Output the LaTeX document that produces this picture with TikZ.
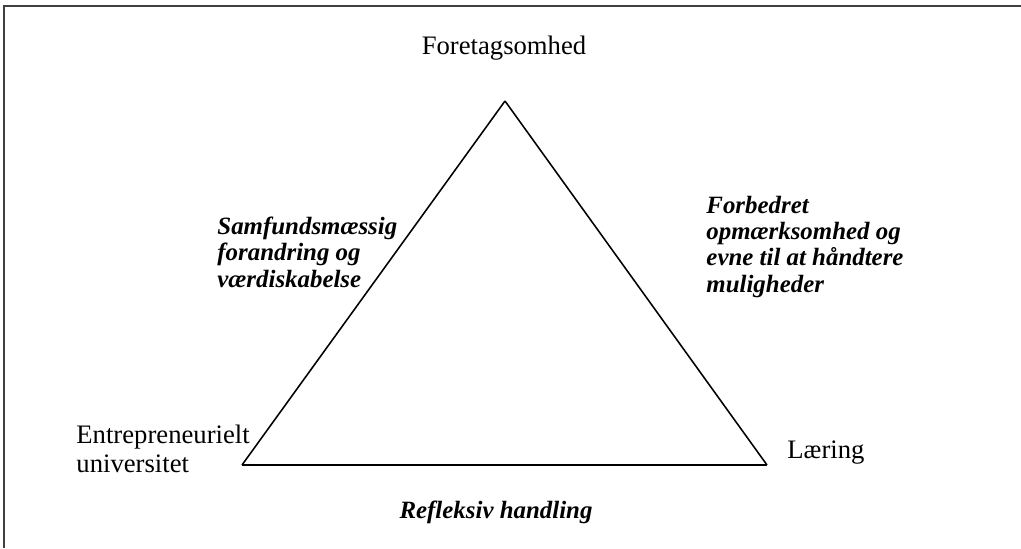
\documentclass[tikz,border=0pt]{standalone}
\usepackage{fontspec}
\setmainfont{Liberation Serif}
\usepackage{tikz}

\begin{document}
\begin{tikzpicture}[x=0.45pt,y=-0.45pt,
	corner/.style = {inner sep=0pt, font=\fontsize{12}{12.8}\selectfont, align=left},
	side/.style = {inner sep=0pt, font=\fontsize{11.2}{11.8}\selectfont\bfseries\itshape, align=left},
	edge/.style = {line width=0.7pt}]
	\useasboundingbox (0,0) rectangle (1021,548);
	\draw[line width=0.9pt, black!75] (4,548) -- (4,6) -- (1021,6);
	\coordinate (top) at (505,101);
	\coordinate (left) at (242,465);
	\coordinate (right) at (767,465);
	\node[corner] (fore) [anchor=base] at (504,54) {Foretagsomhed};
	\node[corner] (uni) [anchor=base west] at (76,472) {Entrepreneurielt\\universitet};
	\node[corner] (laer) [anchor=base west] at (787,458) {Læring};
	\node[side] (samf) [anchor=base west] at (217,287) {Samfundsmæssig\\forandring og\\værdiskabelse};
	\node[side] (forb) [anchor=base west] at (706,292) {Forbedret\\opmærksomhed og\\evne til at håndtere\\muligheder};
	\node[side] (refl) [anchor=base] at (496,518) {Refleksiv handling};
	\draw[edge] (top) -- (right);
	\draw[edge] (right) -- (left);
	\draw[edge] (left) -- (top);
\end{tikzpicture}
\end{document}
